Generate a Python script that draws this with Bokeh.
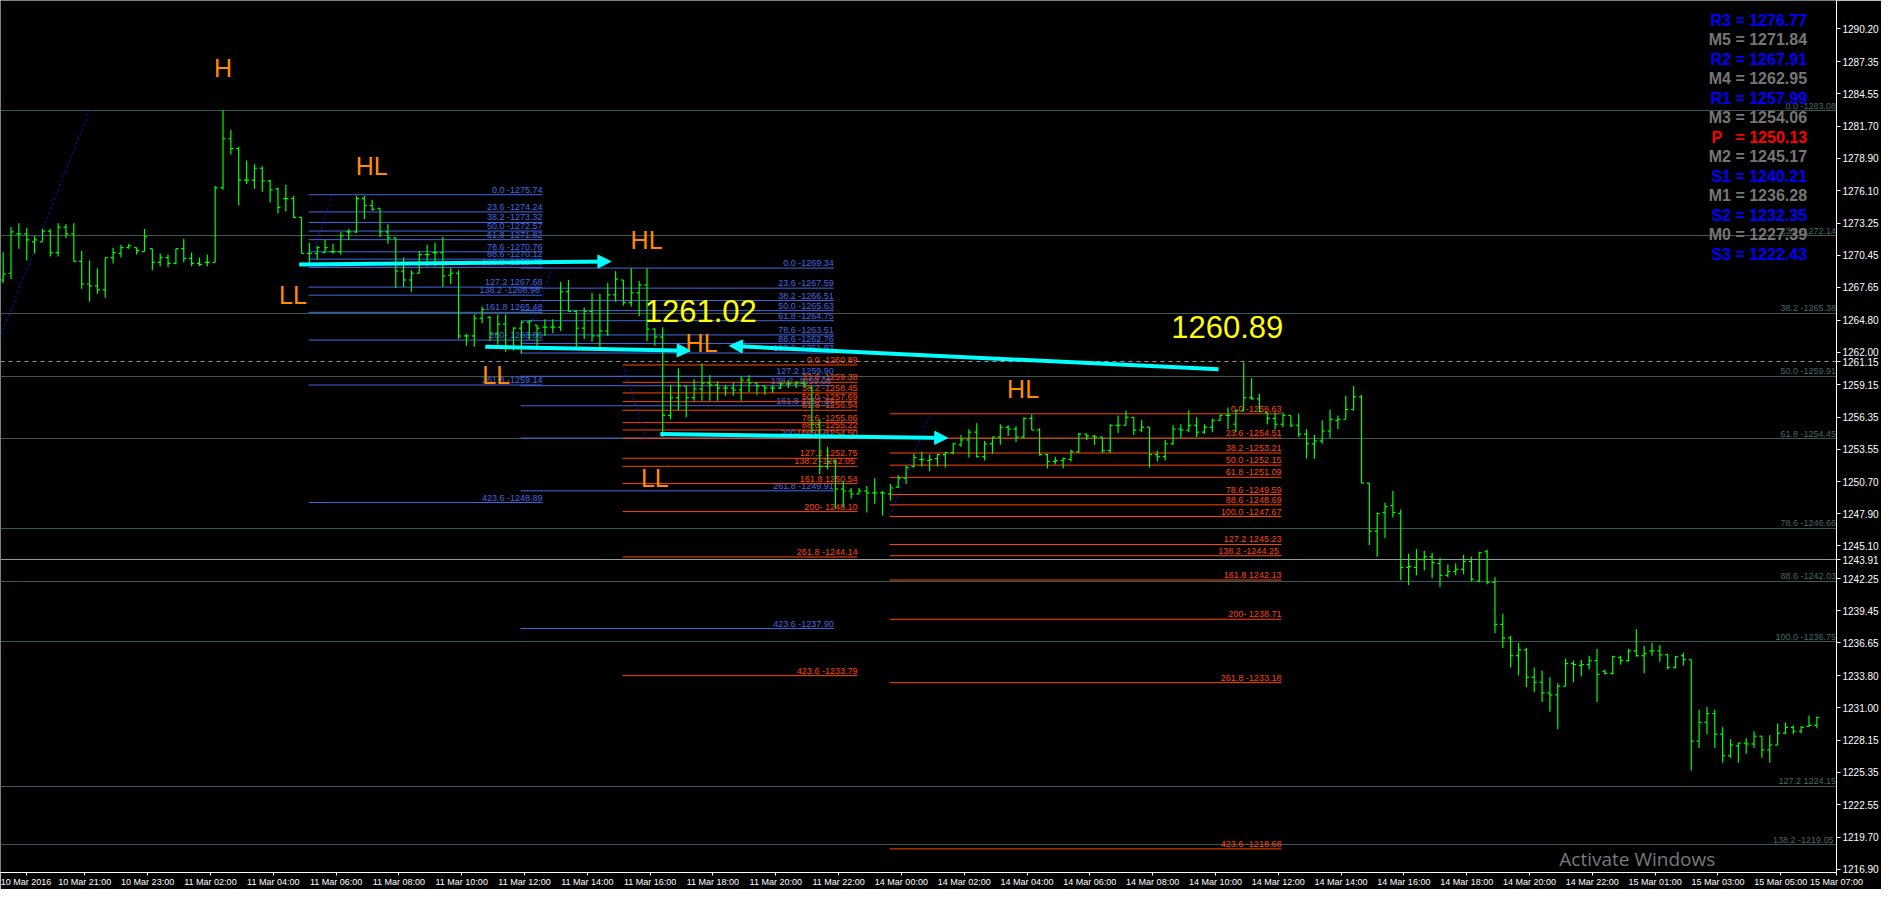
from bokeh.plotting import figure
from bokeh.models import (Range1d, FixedTicker, PrintfTickFormatter, Label, Arrow,
                          NormalHead, ColumnDataSource)
from bokeh.embed import file_html
from bokeh.resources import INLINE
from bokeh.core.properties import value

# ---------------- OHLC data (M15 bars, index 0..231) ----------------
opens = [1268.30,1268.89,1272.32,1272.32,1271.63,1271.63,1272.57,1270.69,1272.92,1272.32,
         1269.92,1267.95,1267.78,1267.44,1270.26,1270.61,1271.12,1271.12,1270.78,1271.03,
         1269.84,1270.26,1269.75,1271.03,1270.18,1269.75,1269.84,1269.84,1276.34,1280.62,
         1279.76,1277.02,1277.02,1278.05,1276.94,1276.25,1275.40,1275.40,1273.77,1270.61,
         1270.61,1270.69,1270.78,1270.78,1272.49,1272.49,1275.40,1274.80,1274.54,1272.49,
         1271.97,1269.07,1268.30,1268.89,1270.52,1270.69,1270.69,1268.72,1268.89,1263.42,
         1263.42,1264.96,1265.04,1263.59,1264.45,1262.48,1264.10,1264.62,1264.36,1264.19,
         1264.19,1264.19,1267.27,1265.56,1264.10,1265.56,1263.42,1263.85,1267.01,1268.30,
         1266.33,1267.18,1267.87,1264.02,1263.33,1256.49,1258.03,1259.06,1258.03,1258.80,
         1259.31,1259.14,1258.88,1258.88,1258.71,1259.57,1259.31,1259.06,1258.88,1258.88,
         1259.23,1259.23,1259.31,1258.88,1255.72,1252.04,1252.47,1250.07,1249.90,1249.64,
         1249.90,1249.73,1249.73,1249.64,1250.24,1251.01,1252.04,1252.64,1252.55,1252.72,
         1253.07,1253.24,1253.92,1254.35,1255.03,1252.89,1254.01,1254.61,1255.46,1255.29,
         1254.61,1256.23,1255.21,1253.07,1252.47,1252.55,1252.64,1253.32,1254.86,1254.69,
         1254.61,1253.41,1255.63,1255.63,1256.32,1255.21,1255.46,1253.07,1252.89,1254.01,
         1255.29,1255.21,1255.63,1255.03,1255.46,1256.06,1256.49,1255.72,1256.92,1258.03,
         1257.94,1256.75,1256.23,1255.72,1256.49,1255.63,1254.86,1254.01,1254.26,1255.12,
         1256.06,1256.15,1257.00,1258.11,1250.59,1246.39,1248.02,1248.62,1247.93,1243.23,
         1243.23,1243.91,1244.17,1243.57,1242.54,1242.88,1243.06,1243.74,1242.03,1244.60,
         1241.94,1238.26,1237.07,1235.53,1236.04,1233.65,1233.22,1232.28,1232.11,1232.87,
         1234.84,1234.67,1234.76,1235.10,1234.16,1233.99,1235.36,1235.10,1235.95,1235.53,
         1235.95,1235.95,1235.61,1234.50,1235.53,1235.18,1228.08,1229.71,1230.48,1228.68,
         1226.80,1227.66,1227.91,1227.83,1228.51,1227.31,1227.74,1228.77,1229.28,1228.94,
         1229.37,1229.45]
highs = [1270.72,1272.92,1273.26,1272.83,1272.15,1272.74,1272.74,1273.26,1273.17,1273.26,
         1270.86,1270.01,1269.32,1270.26,1271.12,1271.38,1271.46,1271.12,1272.74,1271.03,
         1270.61,1270.52,1271.03,1271.89,1270.69,1270.26,1270.52,1276.51,1283.10,1281.39,
         1279.93,1278.73,1278.39,1278.22,1277.02,1276.34,1276.60,1275.65,1273.77,1271.55,
         1271.29,1271.80,1271.46,1272.49,1272.74,1275.65,1275.65,1275.31,1274.54,1273.17,
         1271.97,1270.26,1269.15,1270.86,1271.38,1271.55,1272.06,1269.32,1269.15,1263.59,
         1265.30,1265.99,1265.13,1265.30,1265.30,1264.19,1264.70,1264.79,1264.36,1264.87,
         1264.87,1268.12,1268.30,1265.64,1265.90,1267.18,1267.10,1268.04,1269.07,1268.30,
         1269.32,1268.21,1269.32,1264.10,1264.19,1259.14,1260.59,1259.06,1259.65,1261.02,
         1260.00,1259.48,1259.14,1259.31,1259.91,1260.00,1259.31,1259.06,1259.14,1259.40,
         1259.57,1259.48,1259.57,1259.06,1256.15,1253.75,1252.64,1250.76,1250.16,1250.16,
         1250.33,1251.01,1249.90,1250.50,1251.27,1252.12,1253.15,1253.32,1253.07,1253.15,
         1253.32,1254.09,1254.78,1255.29,1255.80,1254.26,1254.61,1255.72,1255.63,1255.55,
         1256.32,1256.57,1255.38,1253.15,1252.89,1252.81,1253.49,1254.95,1254.86,1254.78,
         1254.61,1255.72,1256.49,1256.92,1256.32,1256.06,1255.46,1253.41,1254.35,1255.63,
         1255.72,1256.92,1256.32,1255.72,1256.23,1256.57,1257.17,1257.00,1261.11,1259.74,
         1258.37,1256.75,1256.75,1256.75,1256.49,1256.66,1255.29,1254.78,1256.06,1257.00,
         1256.49,1258.20,1259.06,1258.29,1250.59,1248.02,1248.87,1249.90,1248.28,1244.43,
         1244.85,1244.68,1244.51,1244.08,1243.48,1243.57,1244.34,1244.17,1244.60,1244.77,
         1242.37,1239.20,1237.24,1236.64,1236.21,1234.50,1234.24,1233.65,1233.13,1235.27,
         1235.10,1235.18,1235.53,1236.12,1234.33,1235.53,1235.53,1236.12,1237.84,1236.38,
         1236.64,1236.47,1235.70,1235.53,1235.78,1235.18,1230.82,1231.08,1230.82,1229.28,
         1228.25,1227.91,1228.34,1228.94,1228.51,1228.60,1229.62,1229.71,1229.45,1229.37,
         1230.31,1230.22]
lows = [1268.04,1268.38,1271.03,1270.01,1270.61,1271.63,1270.35,1270.35,1271.97,1269.92,
        1267.53,1266.41,1267.10,1266.76,1269.75,1270.26,1271.03,1270.52,1270.78,1269.15,
        1269.49,1269.41,1269.67,1269.84,1269.49,1269.49,1269.49,1269.84,1276.17,1279.25,
        1274.80,1276.68,1276.25,1276.00,1275.05,1274.11,1274.28,1273.69,1270.61,1269.75,
        1270.09,1270.69,1270.61,1270.52,1271.80,1272.40,1273.60,1274.37,1272.06,1271.46,
        1267.61,1267.70,1267.27,1268.89,1269.49,1269.49,1267.70,1267.95,1263.16,1262.56,
        1262.48,1264.53,1262.99,1262.65,1262.05,1262.14,1261.88,1263.08,1262.48,1263.42,
        1263.68,1263.85,1265.56,1262.48,1263.16,1262.91,1262.39,1263.42,1266.41,1266.07,
        1265.99,1265.13,1262.99,1262.56,1254.61,1256.15,1256.92,1256.32,1257.77,1257.77,
        1257.77,1257.77,1258.20,1258.20,1257.77,1258.54,1258.29,1258.29,1258.46,1258.80,
        1258.88,1258.88,1258.88,1255.03,1251.35,1251.78,1248.36,1248.45,1249.22,1249.64,
        1248.02,1248.79,1247.76,1249.05,1250.16,1250.50,1251.95,1252.04,1251.61,1252.04,
        1251.95,1253.07,1253.75,1252.81,1252.81,1252.55,1253.15,1253.92,1254.69,1254.18,
        1254.52,1255.21,1252.98,1251.87,1252.21,1251.87,1252.47,1253.24,1254.35,1253.92,
        1253.24,1253.24,1254.95,1255.63,1254.78,1255.03,1251.95,1252.47,1252.55,1253.92,
        1254.52,1255.03,1254.61,1254.86,1255.03,1256.06,1255.29,1255.03,1256.83,1257.86,
        1256.75,1255.72,1255.29,1255.46,1255.46,1254.61,1252.72,1252.72,1254.01,1254.52,
        1255.29,1256.15,1256.92,1250.59,1245.19,1244.17,1245.79,1247.59,1242.11,1241.69,
        1242.54,1242.97,1242.29,1241.52,1242.37,1242.54,1242.63,1242.03,1241.94,1241.77,
        1237.49,1236.21,1234.50,1233.81,1232.79,1232.36,1231.50,1230.65,1229.11,1232.87,
        1233.22,1233.73,1234.33,1231.50,1233.90,1233.90,1234.76,1235.01,1235.44,1233.99,
        1235.53,1235.01,1234.33,1234.41,1234.67,1225.52,1227.48,1228.68,1227.48,1226.20,
        1226.63,1226.20,1226.97,1227.48,1226.63,1226.20,1227.74,1228.68,1228.68,1228.77,
        1229.37,1229.20]
closes = [1268.81,1272.49,1272.32,1271.80,1271.80,1272.57,1270.69,1272.92,1272.32,1269.92,
          1267.95,1267.78,1267.44,1270.26,1270.69,1271.12,1271.29,1270.86,1272.06,1269.84,
          1270.26,1269.75,1271.03,1270.18,1269.75,1269.67,1269.84,1276.34,1280.62,1279.76,
          1277.02,1277.02,1278.05,1276.94,1276.17,1274.63,1275.40,1273.77,1270.61,1270.61,
          1271.12,1271.12,1270.78,1272.15,1272.49,1275.40,1274.80,1274.46,1272.49,1271.97,
          1269.07,1268.30,1268.89,1270.52,1270.52,1270.69,1268.64,1268.89,1263.42,1263.42,
          1264.96,1265.73,1263.59,1264.45,1262.48,1264.10,1264.62,1264.70,1264.10,1264.19,
          1264.19,1267.27,1265.56,1264.10,1265.56,1263.42,1263.85,1267.01,1268.38,1266.33,
          1267.18,1267.87,1264.02,1263.33,1256.49,1258.03,1259.06,1258.03,1258.80,1259.31,
          1259.14,1258.88,1258.88,1258.71,1259.57,1259.31,1259.06,1258.88,1258.88,1259.23,
          1259.23,1259.31,1259.14,1255.72,1252.04,1252.47,1250.07,1249.90,1249.64,1249.90,
          1249.73,1249.73,1249.73,1250.16,1251.01,1251.95,1252.81,1252.64,1252.64,1253.07,
          1253.24,1254.01,1254.35,1255.03,1252.89,1254.01,1254.61,1255.46,1255.29,1254.61,
          1256.23,1255.21,1253.07,1252.47,1252.55,1252.72,1253.32,1254.86,1254.69,1254.61,
          1253.41,1255.63,1255.63,1256.32,1255.21,1255.46,1253.07,1252.89,1254.01,1255.29,
          1255.21,1255.63,1255.03,1255.46,1256.06,1256.49,1256.49,1256.92,1258.03,1257.94,
          1256.83,1256.23,1255.72,1256.49,1255.63,1254.86,1254.01,1254.26,1255.12,1256.15,
          1256.15,1257.00,1258.11,1250.59,1246.39,1247.93,1248.53,1248.02,1243.23,1243.31,
          1243.91,1244.17,1243.65,1242.54,1242.88,1243.06,1243.74,1242.20,1244.51,1241.94,
          1238.26,1237.07,1235.53,1236.04,1233.65,1233.22,1232.28,1232.11,1232.87,1234.84,
          1234.76,1234.76,1235.10,1233.90,1233.99,1235.44,1235.10,1235.95,1235.53,1235.70,
          1235.95,1235.61,1234.50,1235.44,1235.18,1228.08,1229.71,1230.48,1228.68,1226.80,
          1227.74,1227.91,1227.83,1228.51,1227.31,1227.74,1228.77,1229.28,1228.94,1229.28,
          1229.45,1230.14]

# ---------------- axes ----------------
x_tick_bars = [7, 15, 23, 31, 39, 47, 55, 63, 71, 79, 87, 95, 103, 111, 119, 127, 135,
               143, 151, 159, 167, 175, 183, 191, 199, 207, 215, 223, 231]
x_tick_labels = ["10 Mar 21:00", "10 Mar 23:00", "11 Mar 02:00", "11 Mar 04:00", "11 Mar 06:00",
                 "11 Mar 08:00", "11 Mar 10:00", "11 Mar 12:00", "11 Mar 14:00", "11 Mar 16:00",
                 "11 Mar 18:00", "11 Mar 20:00", "11 Mar 22:00", "14 Mar 00:00", "14 Mar 02:00",
                 "14 Mar 04:00", "14 Mar 06:00", "14 Mar 08:00", "14 Mar 10:00", "14 Mar 12:00",
                 "14 Mar 14:00", "14 Mar 16:00", "14 Mar 18:00", "14 Mar 20:00", "14 Mar 22:00",
                 "15 Mar 01:00", "15 Mar 03:00", "15 Mar 05:00", "15 Mar 07:00"]
first_date_label = "10 Mar 2016"
y_ticks = [1290.20, 1287.35, 1284.55, 1281.70, 1278.90, 1276.10, 1273.25, 1270.45, 1267.65,
           1264.80, 1262.00, 1259.15, 1256.35, 1253.55, 1250.70, 1247.90, 1245.10, 1242.25,
           1239.45, 1236.65, 1233.80, 1231.00, 1228.15, 1225.35, 1222.55, 1219.70, 1216.90]

# ---------------- fibonacci objects ----------------
big_fib_ratios = ["0.0", "23.6", "38.2", "50.0", "61.8", "78.6", "88.6", "100.0", "127.2", "138.2"]
big_fib_prices = [1283.08, 1272.14, 1265.38, 1259.91, 1254.45, 1246.66, 1242.03, 1236.75, 1224.15, 1219.05]

fib_ratios = ["0.0", "23.6", "38.2", "50.0", "61.8", "78.6", "88.6", "100.0",
              "127.2", "138.2", "161.8", "200", "261.8", "423.6"]
blue1_prices = [1275.74, 1274.24, 1273.32, 1272.57, 1271.82, 1270.76, 1270.12, 1269.40,
                1267.68, 1266.98, 1265.48, 1263.06, 1259.14, 1248.89]
blue2_prices = [1269.34, 1267.59, 1266.51, 1265.63, 1264.75, 1263.51, 1262.76, 1261.93,
                1259.90, 1259.08, 1257.33, 1254.51, 1249.91, 1237.90]
orange1_prices = [1260.89, 1259.38, 1258.45, 1257.69, 1256.94, 1255.86, 1255.22, 1254.50,
                  1252.75, 1252.05, 1250.54, 1248.10, 1244.14, 1233.79]
orange2_prices = [1256.63, 1254.51, 1253.21, 1252.15, 1251.09, 1249.59, 1248.69, 1247.67,
                  1245.23, 1244.25, 1242.13, 1238.71, 1233.18, 1218.68]
# time extent of each fib object (bar index)
blue1_span = (38.9, 68.7)
blue2_span = (65.9, 105.8)
orange1_span = (78.9, 108.8)
orange2_span = (112.9, 162.8)

# fib anchor trendlines (bar, price) -> (bar, price)
trend_lines = [((-15.75, 1236.75), (11.0, 1283.08)),
               ((38.9, 1269.40), (41.9, 1275.74)),
               ((65.9, 1261.93), (69.9, 1269.34)),
               ((78.9, 1260.89), (81.9, 1254.50)),
               ((112.9, 1247.67), (118.0, 1256.63))]

# swing labels
swing_text = ["H", "HL", "LL", "HL", "LL", "HL", "LL", "HL"]
swing_bar = [28.0, 46.95, 36.9, 81.95, 62.8, 88.95, 83.0, 129.9]
swing_price = [1286.76, 1278.25, 1266.99, 1271.76, 1260.00, 1262.82, 1251.04, 1258.80]

price_notes = ["1261.02", "1260.89"]
price_note_bar = [88.85, 155.9]
price_note_price = [1265.58, 1264.19]

# cyan arrows: start (bar, price) -> tip (bar, price)
arrows = [((37.7, 1269.66), (77.4, 1269.92)),
          ((61.4, 1262.48), (87.5, 1262.14)),
          ((154.8, 1260.51), (92.5, 1262.56)),
          ((83.7, 1254.86), (120.3, 1254.52))]

# pivot levels
pivot_names = ["R3", "M5", "R2", "M4", "R1", "M3", "P\u00a0\u00a0", "M2", "S1", "M1", "S2", "M0", "S3"]
pivot_values = [1276.77, 1271.84, 1267.91, 1262.95, 1257.99, 1254.06, 1250.13,
                1245.17, 1240.21, 1236.28, 1232.35, 1227.39, 1222.43]
pivot_colors = ["#0000FF", "#767676", "#0000FF", "#767676", "#0000FF", "#767676", "#FF0000",
                "#767676", "#0000FF", "#767676", "#0000FF", "#767676", "#0000FF"]

bid_price = 1261.15
line_price = 1243.91

# ---------------- figure ----------------
X0, X1 = -0.34, 233.5
Y0, Y1 = 1216.62, 1292.68
p = figure(width=1881, height=889, x_range=Range1d(X0, X1), y_range=Range1d(Y0, Y1),
           output_backend="svg", toolbar_location=None, y_axis_location="right",
           background_fill_color="black", border_fill_color="black",
           min_border_left=0, min_border_top=0, min_border_right=0, min_border_bottom=0,
           outline_line_color=None)
p.grid.visible = False

for ax in (p.xaxis[0], p.yaxis[0]):
    ax.axis_line_color = "white"
    ax.major_tick_line_color = "white"
    ax.minor_tick_line_color = None
    ax.major_tick_in = 0
    ax.major_label_text_color = "white"
    ax.major_label_text_font = "Liberation Sans"

# MT4 writes each time label to the right of its tick: centre the label half a label
# width (about 3.4 bars) to the right of the bar it belongs to (kept inside the range)
LABEL_SHIFT = 3.4
tick_pos = [min(b + LABEL_SHIFT, X1) for b in x_tick_bars]
first_pos = X0 + 3.25
p.xaxis.ticker = FixedTicker(ticks=[first_pos] + tick_pos)
overrides = {t: s for t, s in zip(tick_pos, x_tick_labels)}
overrides[first_pos] = first_date_label
p.xaxis.major_label_overrides = overrides
p.xaxis.major_label_text_font_size = "9px"
p.xaxis.major_tick_out = 3
p.xaxis.major_label_standoff = 1

p.yaxis.ticker = FixedTicker(ticks=y_ticks + [bid_price, line_price])
p.yaxis.formatter = PrintfTickFormatter(format="%.2f")
p.yaxis.major_label_text_font_size = "10px"
p.yaxis.major_tick_out = 4
p.yaxis.major_label_standoff = 2

# full width fib lines
p.hspan(y=big_fib_prices, line_color="#3A5858", line_width=1)
p.hspan(y=[line_price], line_color="#8E9AA6", line_width=1)
p.hspan(y=[bid_price], line_color="#9A9A9A", line_width=1, line_dash="4 4")

p.text(x=[X1 - 0.05] * len(big_fib_prices), y=big_fib_prices,
       text=[r + ("  -" if r == "138.2" else (" " if r == "127.2" else " -")) + f"{v:.2f}"
             for r, v in zip(big_fib_ratios, big_fib_prices)],
       text_align="right", text_baseline="bottom", text_color="#46686A",
       text_font=value("Liberation Sans"), text_font_size="9px")


def fib_label(r, v):
    sep = {"127.2": " ", "161.8": " ", "200": "- ", "138.2": "  -"}.get(r, " -")
    return f"{r}{sep}{v:.2f}"


def draw_fib(prices, span, color):
    n = len(prices)
    p.segment(x0=[span[0]] * n, x1=[span[1]] * n, y0=prices, y1=prices,
              line_color=color, line_width=1)
    p.text(x=[span[1]] * n, y=prices, text=[fib_label(r, v) for r, v in zip(fib_ratios, prices)],
           text_align="right", text_baseline="bottom", text_color=color,
           text_font=value("Liberation Sans"), text_font_size="9px")


draw_fib(blue1_prices, blue1_span, "#4169E1")
draw_fib(blue2_prices, blue2_span, "#4169E1")
draw_fib(orange1_prices, orange1_span, "#FF4500")
draw_fib(orange2_prices, orange2_span, "#FF4500")

for (a, b) in trend_lines:
    p.line(x=[a[0], b[0]], y=[a[1], b[1]], line_color="#1010FF", line_width=1, line_dash="2 3")

# OHLC bars
xs = list(range(len(opens)))
src = ColumnDataSource(dict(x=xs, xl=[i - 0.32 for i in xs], xr=[i + 0.32 for i in xs],
                            o=opens, h=highs, l=lows, c=closes))
p.segment(x0="x", x1="x", y0="l", y1="h", source=src, line_color="#00FF00", line_width=1.2)
p.segment(x0="xl", x1="x", y0="o", y1="o", source=src, line_color="#00FF00", line_width=1.2)
p.segment(x0="x", x1="xr", y0="c", y1="c", source=src, line_color="#00FF00", line_width=1.2)

# cyan arrows
for (a, b) in arrows:
    p.add_layout(Arrow(end=NormalHead(size=13, fill_color="#00FFFF", line_color="#00FFFF"),
                       x_start=a[0], y_start=a[1], x_end=b[0], y_end=b[1],
                       line_color="#00FFFF", line_width=4))

# swing labels
p.text(x=swing_bar, y=swing_price, text=swing_text, text_align="center", text_baseline="middle",
       text_color="#FF8C00", text_font=value("Liberation Sans"), text_font_size="25px")
p.text(x=price_note_bar, y=price_note_price, text=price_notes, text_align="center",
       text_baseline="middle", text_color="#FFFF00", text_font=value("Liberation Sans"),
       text_font_size="31px")

# pivot block (top right, about 30 px in from the price scale)
for i, (nm, v, col) in enumerate(zip(pivot_names, pivot_values, pivot_colors)):
    p.add_layout(Label(x=X1 - 3.75, y=1290.97 - 1.7026 * i, text=f"{nm} = {v:.2f}",
                       text_align="right", text_baseline="middle", text_color=col,
                       text_font="Liberation Sans", text_font_size="16px",
                       text_font_style="bold"))

# OS watermark visible on the screenshot
p.add_layout(Label(x=198.2, y=1217.8, text="Activate Windows", text_align="left",
                   text_baseline="middle", text_color="#7A7A7A", text_font="Open Sans",
                   text_font_size="19px"))

open("out.html", "w").write(file_html(p, INLINE))
